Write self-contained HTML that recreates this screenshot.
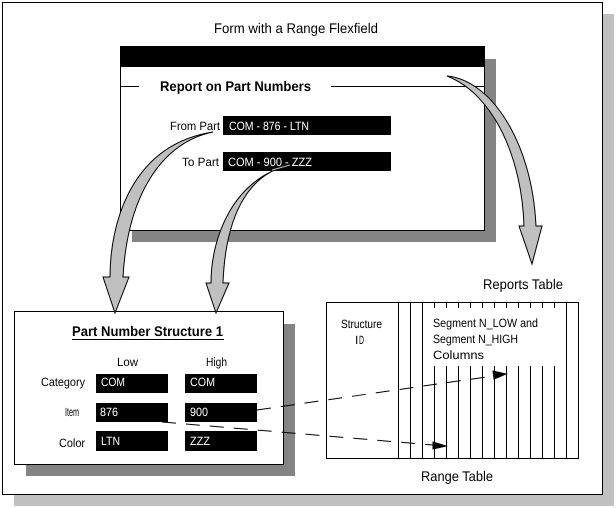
<!DOCTYPE html>
<html><head><meta charset="utf-8"><style>
html,body{margin:0;padding:0;background:#fff}
svg{display:block}
text{font-family:"Liberation Sans",Arial,sans-serif;font-size:12px;fill:#000;text-rendering:geometricPrecision}
.w{fill:#fff}.b{font-weight:bold;font-size:14px}.l{font-size:14px}
.r{shape-rendering:crispEdges}
</style></head><body>
<svg width="616" height="508" viewBox="0 0 616 508" xmlns="http://www.w3.org/2000/svg">
<g class="r">
<rect x="14" y="14" width="600" height="492" fill="#c0c0c0"/>
<rect x="2.5" y="2.5" width="600" height="492" fill="#fff" stroke="#000"/>
<rect x="132" y="59" width="364" height="183" fill="#848484"/>
<rect x="120.5" y="46.5" width="364" height="184" fill="#fff" stroke="#000"/>
<rect x="120" y="46" width="365" height="21" fill="#000"/>
<path d="M120 86.5H139M331 86.5H485" stroke="#000" fill="none"/>
<rect x="223" y="116" width="168" height="19" fill="#000"/>
<rect x="223" y="152" width="168" height="19" fill="#000"/>
<rect x="26" y="324" width="269" height="152" fill="#848484"/>
<rect x="14.5" y="311.5" width="269" height="153" fill="#fff" stroke="#000"/>
<path d="M72 339.5H224" stroke="#000"/>
<rect x="96" y="374" width="72" height="19" fill="#000"/>
<rect x="185" y="374" width="72" height="19" fill="#000"/>
<rect x="96" y="403" width="72" height="19" fill="#000"/>
<rect x="185" y="403" width="72" height="19" fill="#000"/>
<rect x="96" y="431" width="72" height="20" fill="#000"/>
<rect x="185" y="431" width="72" height="20" fill="#000"/>
<rect x="326.5" y="302.5" width="252" height="156" fill="#fff" stroke="#000"/>
<path d="M398.5 302V458M410.5 302V458M422.5 302V458M434.5 302V458M446.5 302V458M458.5 302V458M470.5 302V458M482.5 302V458M494.5 302V458M506.5 302V458M518.5 302V458M530.5 302V458M542.5 302V458M554.5 302V458M566.5 302V458" stroke="#000" fill="none"/>
<rect x="423" y="308" width="143" height="58" fill="#fff"/>
</g>
<text class="w" x="229" y="130" textLength="80" lengthAdjust="spacingAndGlyphs">COM - 876 - LTN</text>
<text class="w" x="228" y="166" textLength="84" lengthAdjust="spacingAndGlyphs">COM - 900 - ZZZ</text>
<g fill="#c0c0c0" stroke="#000" stroke-width="1" stroke-linejoin="miter">
<path d="M213,132 C165,142 128,190 123,277 L129,277 L115,313 L103,277 L110,277 C110,225 130,145 213,132 Z"/>
<path d="M290,165 C255,172 226,205 223,283 L229,283 L216,313 L206,283 L211,283 C211,235 235,178 290,165 Z"/>
<path d="M447,76 C490,80 532,140 536,226 L542,226 L532,264 L519,226 L524,226 C522,160 495,95 447,76 Z"/>
</g>
<path d="M290,165 L272,170" stroke="#c0c0c0" stroke-width="1" fill="none"/>
<path d="M257,410 L493,376" stroke="#000" stroke-dasharray="14 10" fill="none"/>
<path d="M162,422 L433,445" stroke="#000" stroke-dasharray="14 10" fill="none"/>
<path d="M506,374 L493,371 L494,379 Z" fill="#000" stroke="#000"/>
<path d="M446,446 L433,442 L433,449 Z" fill="#000" stroke="#000"/>
<text class="l" x="214" y="33" textLength="164" lengthAdjust="spacingAndGlyphs">Form with a Range Flexfield</text>
<text class="b" x="160" y="91" textLength="151" lengthAdjust="spacingAndGlyphs">Report on Part Numbers</text>
<text x="170" y="130" textLength="50" lengthAdjust="spacingAndGlyphs">From Part</text>
<text x="182" y="166" textLength="37" lengthAdjust="spacingAndGlyphs">To Part</text>
<text class="b" x="72" y="336" textLength="151" lengthAdjust="spacingAndGlyphs">Part Number Structure 1</text>
<text x="117" y="366" textLength="21" lengthAdjust="spacingAndGlyphs">Low</text>
<text x="206" y="366" textLength="21" lengthAdjust="spacingAndGlyphs">High</text>
<text x="41" y="386" textLength="44" lengthAdjust="spacingAndGlyphs">Category</text>
<text class="w" x="101" y="386" textLength="24" lengthAdjust="spacingAndGlyphs">COM</text>
<text class="w" x="190" y="386" textLength="25" lengthAdjust="spacingAndGlyphs">COM</text>
<text x="65" y="416" textLength="14" lengthAdjust="spacingAndGlyphs">Item</text>
<text class="w" x="100" y="416" textLength="18" lengthAdjust="spacingAndGlyphs">876</text>
<text class="w" x="190" y="416" textLength="18" lengthAdjust="spacingAndGlyphs">900</text>
<text x="59" y="447" textLength="26" lengthAdjust="spacingAndGlyphs">Color</text>
<text class="w" x="101" y="445" textLength="19" lengthAdjust="spacingAndGlyphs">LTN</text>
<text class="w" x="190" y="445" textLength="20" lengthAdjust="spacingAndGlyphs">ZZZ</text>
<text class="l" x="483" y="289" textLength="80" lengthAdjust="spacingAndGlyphs">Reports Table</text>
<text class="l" x="421" y="481" textLength="72" lengthAdjust="spacingAndGlyphs">Range Table</text>
<text x="341" y="328" textLength="41" lengthAdjust="spacingAndGlyphs">Structure</text>
<text x="355" y="344">I</text>
<text x="359" y="344" textLength="5" lengthAdjust="spacingAndGlyphs">D</text>
<text x="433" y="327" textLength="105" lengthAdjust="spacingAndGlyphs">Segment N_LOW and</text>
<text x="433" y="343" textLength="85" lengthAdjust="spacingAndGlyphs">Segment N_HIGH</text>
<text x="433" y="359" textLength="51" lengthAdjust="spacingAndGlyphs">Columns</text>
</svg>
</body></html>
